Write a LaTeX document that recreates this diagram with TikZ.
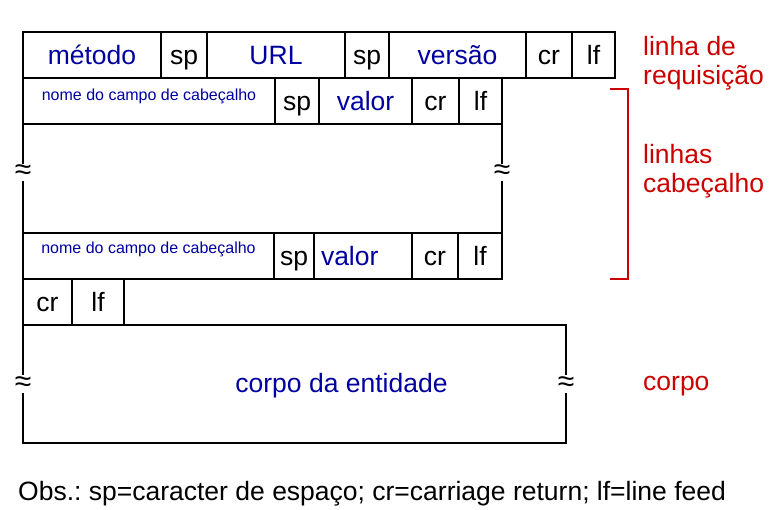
\documentclass[tikz,border=0pt]{standalone}
\usepackage{fontspec}
\setmainfont{Liberation Sans}
\usetikzlibrary{positioning}
\definecolor{txtblue}{RGB}{0,0,160}
\definecolor{txtred}{RGB}{204,0,0}
\frenchspacing

\begin{document}
\begin{tikzpicture}[x=1pt,y=-1pt,line join=miter,
  fld/.style={draw,line width=1.6pt,rectangle,minimum height=46pt,inner sep=0pt,outer sep=0pt,anchor=north west,text height=24pt,text depth=4pt,font=\fontsize{26.5}{30}\selectfont},
  bl/.style={text=txtblue},
  small/.style={font=\fontsize{16}{18}\selectfont},
  aprox/.style={fill=white,inner sep=1.5pt,font=\fontsize{30}{32}\selectfont},
  rotulo/.style={text=txtred,align=left,anchor=west,inner sep=0pt,font=\fontsize{26.5}{29}\selectfont}]
\useasboundingbox (0,0) rectangle (772,510);
%linha de requisicao
\node[fld,bl,minimum width=138pt] (metodo) at (23,32) {método};
\node[fld,minimum width=46pt] (sp1) at (metodo.north east) {sp};
\node[fld,bl,minimum width=138pt] (url) at (sp1.north east) {URL};
\node[fld,minimum width=44pt] (sp2) at (url.north east) {sp};
\node[fld,bl,minimum width=137pt] (versao) at (sp2.north east) {versão};
\node[fld,minimum width=46pt] (cr1) at (versao.north east) {cr};
\node[fld,minimum width=43pt] (lf1) at (cr1.north east) {lf};
%primeira linha de cabecalho
\node[fld,bl,small,minimum width=252pt] (nome1) at (metodo.south west) {\raisebox{10pt}{nome do campo de cabeçalho}};
\node[fld,minimum width=44pt] (sp3) at (nome1.north east) {sp};
\node[fld,bl,minimum width=93pt] (valor1) at (sp3.north east) {valor};
\node[fld,minimum width=47pt] (cr2) at (valor1.north east) {cr};
\node[fld,minimum width=43pt] (lf2) at (cr2.north east) {lf};
\node[fld,minimum width=479pt,minimum height=109pt] (meio) at (nome1.south west) {};
\node[aprox,yshift=6pt] at (meio.west) {≈};
\node[aprox,yshift=6pt] at (meio.east) {≈};
%ultima linha de cabecalho
\node[fld,bl,small,minimum width=251pt] (nome2) at (meio.south west) {\raisebox{12pt}{nome do campo de cabeçalho}};
\node[fld,minimum width=40pt] (sp4) at (nome2.north east) {sp};
\node[fld,bl,minimum width=98pt] (valor2) at (sp4.north east) {\makebox[84pt][l]{valor}};
\node[fld,minimum width=46pt] (cr3) at (valor2.north east) {cr};
\node[fld,minimum width=44pt] (lf3) at (cr3.north east) {lf};
%linha em branco e corpo
\node[fld,minimum width=49pt] (cr4) at (nome2.south west) {cr};
\node[fld,minimum width=52pt] (lf4) at (cr4.north east) {lf};
\node[fld,minimum width=543pt,minimum height=118pt] (corpo) at (cr4.south west) {};
\node[aprox] at (corpo.west) {≈};
\node[aprox] at (corpo.east) {≈};
\node[bl,font=\fontsize{26.5}{30}\selectfont] (corpotxt) at ([xshift=47pt,yshift=-2pt]corpo.center) {corpo da entidade};
%rotulos
\node[rotulo] (lreq) at (643,63) {linha de\\requisição};
\node[rotulo] (lcab) at (643,171) {linhas\\cabeçalho};
\node[rotulo] (lcorpo) at (643,386) {corpo};
\draw[txtred,line width=1.6pt] (610,89) -| (628,279) -- (610,279);
\node[anchor=west,inner sep=0pt,font=\fontsize{26.5}{30}\selectfont] (obs) at (18,494) {Obs.: sp=caracter de espaço; cr=carriage return; lf=line feed};
\end{tikzpicture}
\end{document}
